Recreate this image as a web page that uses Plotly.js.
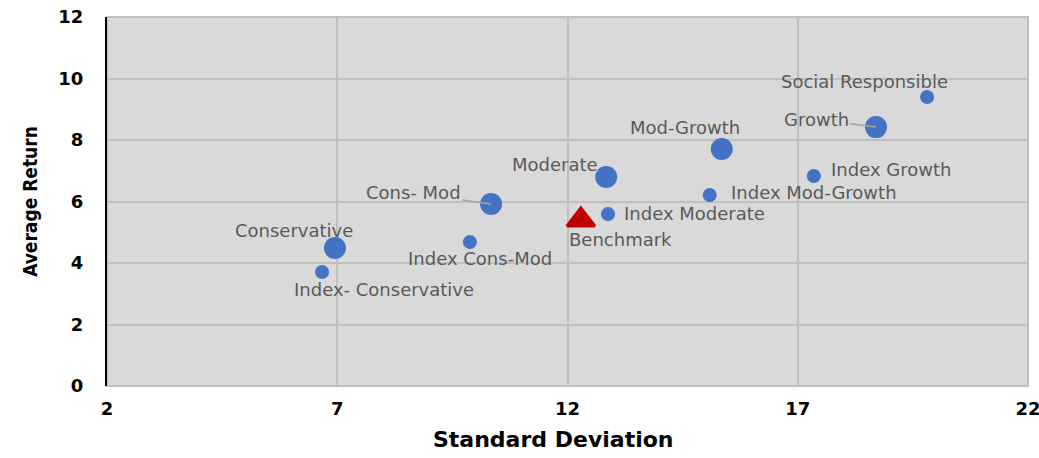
<!DOCTYPE html>
<html>
<head>
<meta charset="utf-8">
<script src="https://cdn.plot.ly/plotly-3.0.1.min.js"></script>
<style>html,body{margin:0;padding:0;background:#fff;}#chart{width:1039px;height:458px;}</style>
</head>
<body>
<div id="chart"></div>
<script>
// Data
const fundNames = ["Conservative","Index- Conservative","Cons- Mod","Index Cons-Mod","Moderate","Index Moderate","Mod-Growth","Index Mod-Growth","Growth","Index Growth","Social Responsible"];
const fundSD     = [6.95, 6.67, 10.34, 9.88, 12.84, 12.88, 15.35, 15.09, 18.70, 17.35, 19.81];
const fundReturn = [4.49, 3.71, 5.92, 4.68, 6.80, 5.59, 7.71, 6.21, 8.42, 6.83, 9.40];
const fundIsIndex = [false, true, false, true, false, true, false, true, false, true, true];
const benchName = ["Benchmark"];
const benchSD = [12.29];
const benchReturn = [5.40];
const xTicks = [2, 7, 12, 17, 22];
const yTicks = [0, 2, 4, 6, 8, 10, 12];

// Styles: label placement (anchor, pixel shifts) keyed by name
const labelOffsets = {
  "Conservative": ["center", -41, 17],
  "Index- Conservative": ["center", 62, -18],
  "Cons- Mod": ["arrow", -78, 11],
  "Index Cons-Mod": ["center", 10, -16],
  "Moderate": ["right", -6, 12],
  "Index Moderate": ["left", 14, 1],
  "Mod-Growth": ["center", -37, 21],
  "Index Mod-Growth": ["left", 19, 3],
  "Growth": ["arrow", -60, 8],
  "Index Growth": ["left", 15, 7],
  "Social Responsible": ["center", -63, 15],
  "Benchmark": ["center", 40, -20]
};

const blue = "#4472c4";
const labelFont = {family: "DejaVu Sans, sans-serif", size: 18, color: "#595959"};

const traces = [
  {
    x: fundSD, y: fundReturn, type: "scatter", mode: "markers", opacity: 1,
    marker: {color: blue, opacity: 1, size: fundIsIndex.map(b => b ? 14 : 22), line: {width: 0}},
    hoverinfo: "text", text: fundNames
  },
  {
    x: benchSD, y: benchReturn, type: "scatter", mode: "markers", opacity: 1,
    marker: {color: "#c00000", opacity: 1, symbol: "triangle-up", size: 24, line: {color: "#c00000", width: 3}},
    hoverinfo: "text", text: benchName
  }
];

const annotations = [];
const allNames = fundNames.concat(benchName);
const allX = fundSD.concat(benchSD);
const allY = fundReturn.concat(benchReturn);
allNames.forEach((n, i) => {
  const o = labelOffsets[n];
  if (o[0] === "arrow") {
    annotations.push({x: allX[i], y: allY[i], xref: "x", yref: "y", text: n, showarrow: true,
      arrowhead: 0, arrowwidth: 1.5, arrowcolor: "#a6a6a6", ax: o[1], ay: -o[2], font: labelFont, standoff: 0});
  } else {
    annotations.push({x: allX[i], y: allY[i], xref: "x", yref: "y", text: n, showarrow: false,
      xanchor: o[0], xshift: o[1], yshift: o[2], font: labelFont});
  }
});
annotations.push({xref: "paper", yref: "paper", x: 0.484, y: -0.146, yanchor: "middle", showarrow: false,
  text: "Standard Deviation", font: {family: "DejaVu Sans, sans-serif", size: 22, color: "#000", weight: "bold"}});

const layout = {
  width: 1039, height: 458,
  margin: {l: 107, r: 11, t: 17, b: 72},
  paper_bgcolor: "#ffffff",
  plot_bgcolor: "#d9d9d9",
  showlegend: false,
  xaxis: {
    range: [1.999, 22.001], tickvals: xTicks, ticktext: xTicks.map(String),
    showgrid: true, gridcolor: "#bfbfbf", gridwidth: 2, zeroline: false,
    showline: false, ticks: "", ticklabelstandoff: 10, ticklabeloverflow: "allow",
    tickfont: {family: "DejaVu Sans, sans-serif", size: 18, color: "#000", weight: "bold"}
  },
  yaxis: {
    range: [0, 12.001], tickvals: yTicks, ticktext: yTicks.map(String),
    showgrid: true, gridcolor: "#bfbfbf", gridwidth: 2, zeroline: false,
    showline: true, linecolor: "#000", linewidth: 2, ticks: "", ticklabelstandoff: 18,
    tickfont: {family: "DejaVu Sans, sans-serif", size: 18, color: "#000", weight: "bold"},
    title: {text: "Average Return", standoff: 16, font: {family: "DejaVu Sans Condensed, DejaVu Sans, sans-serif", size: 19, color: "#000", weight: "bold"}}
  },
  shapes: [
    {type: "rect", xref: "paper", yref: "paper", x0: 0, x1: 1, y0: 0, y1: 1, layer: "below",
     line: {color: "#bfbfbf", width: 2}, fillcolor: "rgba(0,0,0,0)"}
  ],
  annotations: annotations
};

Plotly.newPlot("chart", traces, layout, {displayModeBar: false, staticPlot: true});
</script>
</body>
</html>
